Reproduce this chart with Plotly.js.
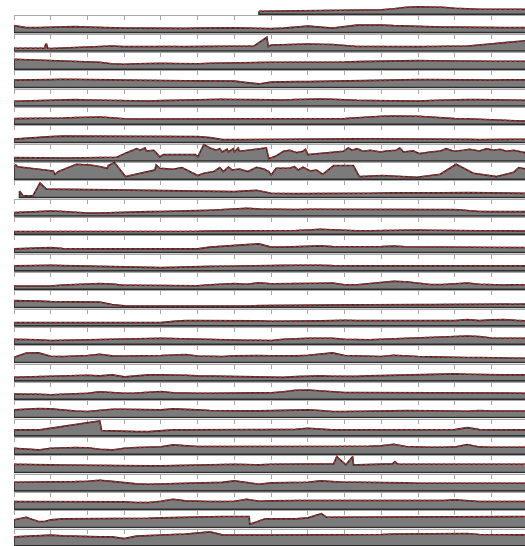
<!DOCTYPE html>
<html><head><meta charset="utf-8">
<script src="https://cdn.plot.ly/plotly-3.0.1.min.js"></script>
<style>html,body{margin:0;padding:0;background:#fff}#chart{width:525px;height:546px}</style>
</head><body><div id="chart"></div>
<script>
// common time index (3 steps per tick interval)
const t = [0,1,2,3,4,5,6,7,8,9,10,11,12,13,14,15,16,17,18,19,20,21,22,23,24,25,26,27,28,29,30,31,32,33,34,35,36,37,38,39,40,41,42];

const r00 = [null,null,null,null,null,null,null,null,null,null,null,null,null,null,null,null,null,null,null,null,3,3.2,3,3.3,3.5,3.5,4,4,4.2,4.5,4.5,5.5,7,7.5,7.5,7,6,5.3,5,5,5,5,5];
const r01 = [7,5,5,5.5,6,6,5.5,5,4.5,4.5,4.5,4.3,4.3,4.5,4.3,4.5,4.8,5,4.8,4.5,4,4,4.5,5.5,6.5,5.5,4.5,6,7.5,7.5,7.7,7,6.5,6,5.8,5.5,5.5,5.2,5,5,5,5,5];
const r02x = [0,1,2,2.5,2.58,2.66,2.75,3,4,5,6,7,8,9,10,11,12,13,14,15,16,17,18,19,19.6,20.65,20.75,21,22,23,24,25,26,27,28,29,30,31,32,33,34,35,36,37,38,39,40,41,42];
const r02 = [2.7,2.7,2.7,2.7,6.7,6.7,2.7,2.5,3,3.5,3.5,3.8,5,4.3,4.5,4.8,5,4.5,4.3,4.3,4.5,4.8,4.5,4.5,5,13.7,4.5,6,6.5,6.5,7,6.7,6.5,5.5,4.5,4.5,4.3,4.3,4.3,4.3,4.5,4.5,4.5,5,6,7,8.5,9.5,10.5];
const r03 = [10,9.5,9,8.5,8,8,7.5,7,5.5,5,5.5,6,6,5.8,5.5,5.5,6,6.3,6.5,6.7,7,7,7,7,6.7,6.7,7,7.3,7.7,8,8,8.3,8.5,8.7,8.5,8.3,8,8,8,8,8,8,8];
const r04 = [7.5,7.5,7.8,8,8.3,8.3,8.3,8,7.7,7.5,7.5,7.3,7,7,6.8,6.7,6.7,6.7,6.5,5,3.7,5.5,6,6,6,6.3,6.5,6.8,7,7.3,7.5,7.5,7.7,8,8,7.8,7.5,7.5,7.5,7.5,7.7,7.7,7.7];
const r05 = [4.7,5,5.3,6,6.3,6.3,6,5.7,5.3,5,5,5,5.3,5.7,6,6.5,6.7,6.7,6.5,6.3,5.7,5.8,6,6.5,7,7,6.7,6,5.7,5.5,5.2,4.8,4.7,4.8,5.5,6,6.3,6.3,6.3,6,5.8,5.7,5.7];
const r06 = [5.7,5.7,6,6,6.3,6.8,7.3,7.3,6.5,5.5,5.3,5.3,5,5,5,5,5,5.2,5.3,5.5,5.5,5.3,5.3,5.5,5.5,5.5,5.7,5.7,6.5,7.5,8,8.3,8.3,8,7.3,6.3,5.7,5.5,5,4,3.5,3,3];
const r07 = [3.5,4.5,5.5,6,6.5,6.5,6.5,6.3,6.3,6.3,6.5,6.5,6.5,6.3,6,6,5,3,3,3,3.2,3.3,3.5,3.5,3.7,3.5,3.5,3.7,3.7,3.8,3.8,3.8,3.7,3.5,3.5,3.5,3.5,3.2,3,3.3,3.3,3.3,3.3];
const r08x = [0,4.3,8.4,8.8,9.2,9.7,10.0,10.3,10.7,10.8,11.4,11.6,11.9,12.2,14.8,15.0,15.5,16.0,16.5,16.8,17.0,17.4,17.5,17.9,18.0,18.3,18.4,20.6,20.8,21.4,22.0,22.5,23.1,23.6,23.8,24.0,26.9,27.3,27.6,28.0,28.5,29.1,29.9,30.4,31.2,31.5,31.8,32.6,33.1,34.0,34.8,35.3,35.9,36.7,37.2,38.0,38.6,39.1,39.7,40.2,40.8,41.7,42.2];
const r08 = [3.3,3,3.7,6.3,8.3,10.7,12.3,10.7,13,10,10.7,8.3,4,6.3,6.3,4,16.3,13,10.7,12.3,9,11.7,9,12.3,9,13,9.7,13,2.3,5,9.7,10.7,8.3,9.7,11.7,6.3,9.7,13,10.7,12.3,9.7,10.7,9,10,10.7,13,9,10,7.3,9,10,12.3,9.7,10.7,11.7,10,12.3,10.7,11.7,9.7,10.7,8.3,8.5];
const r09x = [0,0.15,0.3,3.2,3.35,3.6,5.1,6.2,7.0,7.6,7.7,8.2,9.1,9.7,10.8,11.5,11.6,11.9,13.0,13.7,14.1,14.5,15.0,15.5,16.3,16.8,17.1,17.5,17.8,18.4,19.1,19.8,20.4,20.8,21.0,21.4,22.5,22.9,23.2,23.6,24.2,24.7,25.2,26.1,27.7,28.2,30.1,32.9,34.8,36.1,37.5,39.4,40.8,41.2,42.2];
const r09 = [12.7,14.3,12.5,8.3,5,7.7,15,14.3,12.7,11,13.7,16.7,2.7,4.3,7,9.3,14.3,11,10,11.7,9.3,7,3.7,6,7.7,11.7,7.7,12.3,9.3,10.3,7.7,12,10.3,7.7,4.3,11,11,12.7,9.3,12,8.3,9.3,5,13.7,13.7,2.7,3.7,2,5,15,6,2.7,7,11.7,9.3];
const r10x = [0.45,0.75,1.55,2.12,2.65,4,6,8,10,12,14,16,18,19.8,21,23,25,27,29,31,33,35,37,39,41,42.2];
const r10 = [6.5,1.7,2,14.5,8.5,8,8,7.7,7.5,7.3,7,6.3,6,7.3,4.3,4,4,4.2,4.3,4.8,4.5,4.7,5,4.8,4.3,4.2];
const r11 = [3.3,4,5,5,4.5,3.5,3,3,3.5,4,4.3,4.3,4.5,5,5,5.3,5.7,6.5,7.3,7.7,7,6.7,6.5,6.5,6.7,6.7,6.3,6.3,6,6,6,6,6.3,6.5,6.7,6.7,6.3,5.5,4.5,4.3,4.3,4.3,4.3];
const r12 = [2.7,2.7,2.7,2.5,2.7,2.7,2.8,2.8,2.5,2.7,2.7,2.5,2.3,2.5,2.7,3,3.3,3.3,3.7,3.3,3.3,3.5,3.7,3.7,4.3,5,4.5,3.7,3.5,3.5,3.8,4.3,4.5,4.3,4,3.7,3.5,3.7,3.5,3.5,3.3,3.3,3.3];
const r13 = [3.7,4,4.7,5,4,3.7,3.7,3.7,3.7,3.7,3.7,3.7,3.7,3.7,3.7,3.7,5.5,6.5,7.5,8,8.7,5.5,5.5,5.8,6,6.7,6,5.8,5.8,5.8,6,6.5,5.8,5.7,5.5,5.5,5.3,5,5,4.8,4.8,5,5];
const r14 = [5,5.3,5.7,5.7,5.3,5,4.7,4.3,4,4,3.7,3.5,3.3,3.5,4,4.3,4.5,4.7,5,5,5,5.2,5.5,5.7,6,5.7,5.3,5,5,5,5,5,5.2,5.5,5.7,5.7,5.3,5,5,5,5,5,5];
const r15 = [3.3,3.3,3.3,3.3,4.3,4.7,5,5.7,5.3,4,4,4,4,4,3.5,3.5,4.5,5.3,5.7,5,6.5,5.5,5.5,5.7,5.7,6,6.3,4.5,4.5,5.5,7,8,7.5,6,4.7,4.7,5.3,6.3,5,4.3,4.3,4.5,4.5];
const r16 = [7,7,6.5,6,5.8,5.7,5.7,5.5,3,1.7,1.5,1.5,1.5,1.3,1.3,1.3,1.2,1,1,1.5,2,2,2.3,2.3,2.3,2.5,2.5,2.3,2.7,2.8,3,3,3,3,3,3,3,3,3.2,3.2,3.3,3.3,3.5];
const r17 = [3.3,3.3,3.5,3.7,3.7,3.7,3.5,3.7,3.5,3.3,3.3,3.3,3.3,4.5,5.3,5.3,5.3,5.5,5.3,5,5,4.7,4.7,4.5,4.7,5,5.3,5.7,5.3,5.3,5,5,5,5,5,5,5.3,6.3,5.3,6,6.3,5.5,5];
const r18 = [5,5,4.5,3.7,4,4.3,4.3,4.5,4.7,5,5.7,6,6,5.7,5.3,5.3,5,4.7,4.3,4,4,3.7,5,5.7,6,6,6,5,4.5,4.5,5,5.5,6,6.3,7,7.7,8,8.3,7.7,6.3,6,6,6];
const r19 = [5.3,9.5,9.7,6.3,6,6.5,7,8.3,6.7,6.5,6.5,6.7,7,7.5,8,6.5,6,6,6.7,7,7,6.8,6.7,6.7,7.3,8.5,9.7,7,6.5,6,6,7.3,6.5,6,5.7,5.3,5,5,5,4.7,4.5,4.3,4.3];
const r20 = [3.7,4,5,5,5,5.3,5.7,5,6,4,5.3,6,6,6,5.7,5,4.7,4.3,4.7,4.3,4,3.7,3.5,4.3,5,5,4.7,4.3,4.5,5,5.3,5.7,6,6.3,6.7,7,7,6.7,6.3,6,6,6,6];
const r21 = [5.3,5.3,5,4.5,5,5.5,6,7.5,6.5,6,6.3,7.3,7.7,6.5,6,6,6,6,6,6,6,6.5,7.5,9,9.3,8.5,7.5,6.7,6.7,6.7,6.7,6.7,6.7,6.3,6,6,6,6,6,6,6,6,6];
const r22 = [7.7,8.3,9,8.7,7.5,6.5,6,7.3,8.3,8.3,8.3,8,7.7,8.7,8.5,7.7,7,6.7,6.7,6.7,6.7,7,7,7.3,7.7,7,6,6,6,6.3,6.5,6.7,7,6.7,6.5,6.7,6.5,6.3,7,6.5,6.5,6.5,6.5];
const r23x = [0,1,2,2.1,7.0,7.15,8,9,10,11,12,13,14,15,16,17,18,19,20,21,22,23,24,25,26,27,28,29,30,31,32,33,34,35,36,37,38,39,40,41,42.2];
const r23 = [6,6.3,6,6,15,5.3,5,4.5,4.3,4.3,5.5,6,6,6,6.3,6.3,6.5,6.3,6.3,6.5,6.5,6.5,7.7,6.5,6,6,6,6.3,6,6,6,6,6.5,6.3,6.3,8.3,6.3,6,6,6,6];
const r24 = [6,5.5,4.3,6,6.7,6.7,6.5,5,4.3,6,6.7,7,7.5,9.3,8.3,7.7,7.7,7.7,7.7,7.7,8,8,7.7,7.7,8,8,8,8,8,8,8.5,10,7.7,7,7,7,7.3,9.7,7.3,7,7,7,7];
const r25x = [0,1,2,3,4,5,6,7,8,9,10,11,12,13,14,15,16,17,18,19,20,21,22,23,24,25,26.1,26.35,27.1,27.65,27.72,28,29,30,30.9,31.1,31.35,32,33,34,35,36,37,38,39,40,41,42.2];
const r25 = [8.3,8.3,8,7.7,7.5,7.3,7,7.3,6.7,6.7,6.5,6.7,6.7,7,7.3,7,8,8.3,8.3,8,7.7,8.3,8.3,8.3,8.7,9,8.7,16,7.7,16,7.7,7.7,8.3,8.3,8.7,11,8.3,8.3,8.3,8.3,8.3,8.3,8.3,8.3,8.3,8.3,8.3,8.3];
const r26 = [8.7,8.7,9,9.3,9.3,9.3,9.7,10.7,9.5,8,7,6.7,7,7.3,7.7,7.7,8,8.5,10,8.5,6.7,8,8.3,8.3,8.7,10,9,8.7,8.7,8.7,8.5,8.3,8,7.7,7.7,7.7,7.7,7.7,7.7,7.7,7.7,7.7,7.7];
const r27 = [7.7,7.7,7.7,7.7,7.7,7.7,7.7,7.7,7.7,7.3,6.7,6.7,8,10,8.3,7.7,7.7,7.7,8,10,8,8.3,8.7,8.7,8.7,8.7,8.5,8.3,8.3,8.3,8.3,8.3,8.3,8.3,8.3,8.7,9.3,8.3,7.7,7.7,7.7,7.7,7.7];
const r28x = [0,0.7,1.0,1.5,2.0,2.5,3,4,5,6,7,8,9,10,11,12,13,14,15,16,17,18,19.2,19.25,20.0,20.5,21,22,23,24,25.1,25.5,26,27,28,29,30,31,32,33,34,35,36,37,38,39,40,41,42.2];
const r28 = [7.7,9,10.3,8,6,6,7.7,8.7,8.7,8.7,9,9.3,9.3,9.3,9.3,9.7,10,10.5,11,11,11,11,11,3.3,6.7,8.7,8.7,8.7,8.7,9.7,14,10.3,10.3,11,11,11,11,11,11,11,11,11,11,11,11,11,11,11,11];
const r29 = [9,9.5,10.3,10.7,10,9.5,9.3,9,9,7.3,9.7,10,10.5,11.3,11.7,12.7,14,11,10.7,10.7,10.7,10.7,10.7,10.7,10.7,10.7,10.7,10.7,10.7,11,11.3,11.7,11.7,11.7,11.7,11.7,11.7,12.3,11.3,11,11,11,11];

const rows = [
  [t, r00], [t, r01], [r02x, r02], [t, r03], [t, r04], [t, r05], [t, r06], [t, r07],
  [r08x, r08], [r09x, r09], [r10x, r10], [t, r11], [t, r12], [t, r13], [t, r14],
  [t, r15], [t, r16], [t, r17], [t, r18], [t, r19], [t, r20], [t, r21], [t, r22],
  [r23x, r23], [t, r24], [r25x, r25], [t, r26], [t, r27], [r28x, r28], [t, r29]
];

const H = 546, W = 525;
const FIRST = 14.3, STEP = 18.33, PAD = 1.0, ROWH = 24;
const traces = [];
const layout = {
  width: W, height: H, showlegend: false,
  margin: {l: 14, r: 0, t: 0, b: 0, pad: 0},
  paper_bgcolor: '#ffffff', plot_bgcolor: 'rgba(0,0,0,0)'
};

rows.forEach((row, k) => {
  const xs = [], ys = [];
  row[0].forEach((xv, i) => { if (row[1][i] !== null && row[1][i] !== undefined) { xs.push(xv); ys.push(row[1][i]); } });
  const sfx = k === 0 ? '' : String(k + 1);
  const basePx = FIRST + STEP * k;
  const yBot = Math.max(0, 1 - (basePx + PAD) / H);
  const yTop = Math.min(1, yBot + ROWH / H);
  const lowPx = (1 - yBot) * H - basePx;
  const span = (yTop - yBot) * H;
  layout['xaxis' + sfx] = {
    domain: [0, 1], anchor: 'y' + sfx, range: [0, 41.72],
    tick0: 0, dtick: 3, ticks: 'outside', ticklen: 4, tickwidth: 1, tickcolor: '#a8a8a8',
    showline: true, linecolor: '#a8a8a8', linewidth: 1,
    showticklabels: false, showgrid: false, zeroline: false, fixedrange: true
  };
  layout['yaxis' + sfx] = {
    domain: [yBot, yTop], anchor: 'x' + sfx, range: [-lowPx, span - lowPx],
    visible: false, showgrid: false, zeroline: false, fixedrange: true
  };
  const px = xs.concat(xs.slice().reverse(), [xs[0]]);
  const py = ys.concat(xs.map(() => 0), [ys[0]]);
  traces.push({
    type: 'scatter', mode: 'lines', x: px, y: py, xaxis: 'x' + sfx, yaxis: 'y' + sfx,
    fill: 'toself', fillcolor: '#7b7b7b', line: {color: '#2e2e2e', width: 1.6}, hoverinfo: 'skip'
  });
  traces.push({
    type: 'scatter', mode: 'lines', x: xs, y: ys, xaxis: 'x' + sfx, yaxis: 'y' + sfx,
    line: {color: '#b8302c', width: 1.3, dash: '3px,2px'}, hoverinfo: 'skip'
  });
});

Plotly.newPlot('chart', traces, layout, {staticPlot: true, displayModeBar: false});
</script>
</body></html>
